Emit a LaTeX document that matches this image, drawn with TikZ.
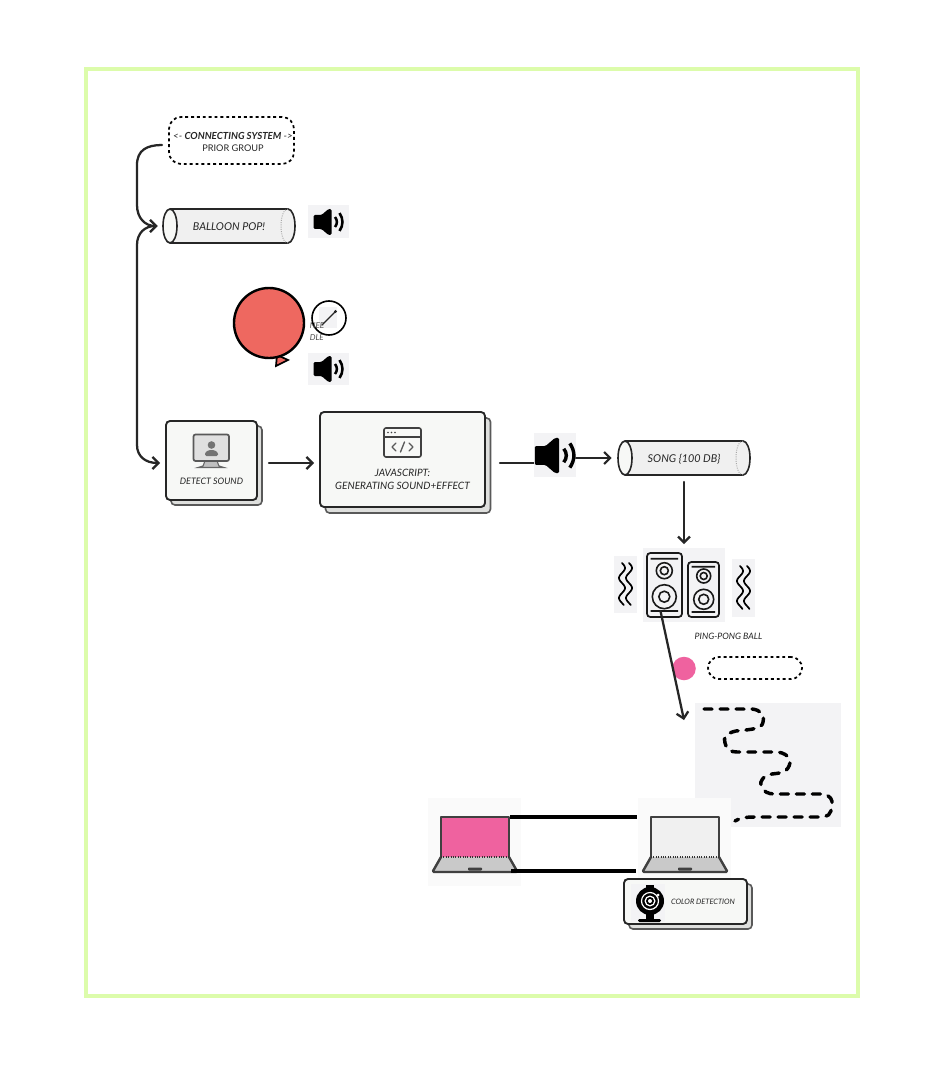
\documentclass[tikz,border=0pt]{standalone}
\usepackage{fontspec}
\setmainfont{Lato}
\usetikzlibrary{arrows.meta,calc}
\definecolor{frame}{HTML}{DCFCAB}
\definecolor{ink}{HTML}{262626}
\definecolor{iconbg}{HTML}{F3F3F5}
\definecolor{cardfill}{HTML}{F7F8F6}
\definecolor{cylfill}{HTML}{F0F0F0}
\definecolor{balloonred}{HTML}{EE6860}
\definecolor{pingpink}{HTML}{EF629F}
\definecolor{padgrey}{HTML}{C9C9C9}
\tikzset{
  conn/.style={draw=ink,line width=1.7pt,line cap=round,-{Straight Barb[length=4.5pt,width=9pt,line width=1.7pt]}},
  plainconn/.style={draw=ink,line width=1.7pt,line cap=round},
  thickline/.style={draw=black,line width=2.5pt},
  frontcard/.style={draw=ink,line width=1.4pt,fill=cardfill,rounded corners=3pt,inner sep=0pt},
  backcard/.style={draw=black!65,line width=1.2pt,fill=cardfill!90!black,rounded corners=3pt,inner sep=0pt},
  dashbox/.style={draw=black,line width=1.3pt,dash pattern=on 2.2pt off 2.2pt,inner sep=0pt},
  lab/.style={inner sep=0pt,text=ink,font=\itshape\fontsize{6.7pt}{9.6pt}\selectfont,align=center},
  iconback/.style={fill=iconbg,draw=none},
}
\newcommand\speakericon[3]{%
  \begin{scope}[shift={(#1,#2)},scale=#3]
    \fill[black,rounded corners=1pt] (-15,-7) -- (-7,-7) -- (0,-13) -- (3,-13) -- (3,13) -- (0,13) -- (-7,7) -- (-15,7) -- cycle;
    \draw[black,line width=#3*1.9pt] (6.5,-5) .. controls (9,-2) and (9,2) .. (6.5,5);
    \draw[black,line width=#3*1.9pt] (11,-9) .. controls (15,-3) and (15,3) .. (11,9);
  \end{scope}}
\newcommand\cylshape[6]{%
  \draw[ink,line width=1.2pt,fill=cylfill] ({#4-7},{(#3+#5)/2}) ellipse [x radius=7,y radius={(#5-#3)/2}];
  \fill[cylfill] ({#2+7},#3) rectangle ({#4-7},#5);
  \draw[ink,line width=1.2pt] ({#2+7},#3) -- ({#4-7},#3) ({#2+7},#5) -- ({#4-7},#5);
  \draw[black!35,line width=.7pt,densely dotted] ({#4-7},#3) .. controls ({#4-16.3},#3) and ({#4-16.3},#5) .. ({#4-7},#5);
  \draw[ink,line width=1.2pt,fill=cardfill] ({#2+7},{(#3+#5)/2}) ellipse [x radius=7,y radius={(#5-#3)/2}];
  \node[lab,font=\itshape\fontsize{8.1pt}{9pt}\selectfont,minimum width={(#4-#2)*.75pt},minimum height={(#5-#3)*.75pt}] (#1) at ({(#2+#4)/2},{(#3+#5)/2+.7}) {#6};}
\newcommand\laptop[3]{%
  \begin{scope}[shift={(#1,0)}]
    \fill[black!2] (-5,798) rectangle (88,886);
    \draw[black!75,line width=1.8pt,fill=#2,line join=round] (8,857) -- (8,817) -- (76,817) -- (76,857);
    \fill[padgrey] (8,857) -- (0,872) -- (84,872) -- (76,857) -- cycle;
    \draw[black!75,line width=1.8pt,line join=round,line cap=round] (8,857) -- (0,871) -- (1,872) -- (83,872) -- (84,871) -- (76,857);
    \draw[black!80,line width=.8pt,densely dotted] (8,857) -- (76,857);
    \fill[black!75,rounded corners=.6pt] (35,867.5) rectangle (49,870.5);
  \end{scope}}
\newcommand\wave[3]{%
  \draw[black,line width=1.3pt,line cap=round,smooth] plot[domain=#2:#3,samples=40] ({#1+3*sin((\x-#2)*18)},\x);}
\begin{document}
\begin{tikzpicture}[x=.75pt,y=-.75pt]
\useasboundingbox (0,0) rectangle (944,1066);
\fill[white] (0,0) rectangle (944,1066);
\draw[frame,line width=3pt] (85.5,69.5) rectangle (857.5,996);

% connecting system box
\node[dashbox,rounded corners=9pt,minimum width=125*.75pt,minimum height=47*.75pt] (prior) at (231.5,140.5) {};
\node[lab,font=\fontsize{7.3pt}{9pt}\selectfont] (priortext) at (233,142) {\itshape <- \textbf{CONNECTING SYSTEM} ->\\[0pt]{\fontsize{6.9pt}{9pt}\selectfont PRIOR GROUP}};

% balloon pop
\cylshape{balloon}{163}{209}{295}{243}{BALLOON POP!}
\fill[iconback] (308,205) rectangle (349,238);
\speakericon{328.5}{222}{1}

% balloon
\draw[black,line width=1.3pt,fill=balloonred] (277,355) -- (288,360) -- (276,366) -- cycle;
\node[circle,draw=black,line width=1.8pt,fill=balloonred,minimum size=70*.75pt,inner sep=0pt] (bigballoon) at (269,323) {};

% needle
\fill[iconback] (319,307) rectangle (337,328);
\node[circle,draw=black,line width=1.2pt,minimum size=34*.75pt,inner sep=0pt] (needlecircle) at (329,318) {};
\draw[ink,line width=1pt] (322,325) -- (335,312);
\fill[ink] (335.5,311.5) circle (1.6);
\node[lab,anchor=north west,align=left,font=\itshape\fontsize{6.1pt}{9pt}\selectfont,text=black!70] (needlelabel) at (309.5,322) {NEE\\DLE};

\fill[iconback] (308,353) rectangle (349,385);
\speakericon{328.5}{369}{1}

% cards
\node[backcard,minimum width=91*.75pt,minimum height=79*.75pt] (detectback) at (216.5,465.5) {};
\node[frontcard,minimum width=91*.75pt,minimum height=79*.75pt] (detect) at (211.5,460.5) {};
\fill[black!25,draw=black!60,line width=.8pt] (205,461) -- (217,461) -- (219,466) -- (224,467.5) -- (198,467.5) -- (203,466) -- cycle;
\draw[black!65,line width=1.3pt,fill=black!12,rounded corners=1.5pt] (193.5,434.5) rectangle (229,461);
\fill[black!55] (211.5,445) circle (3.8);
\fill[black!55,rounded corners=1pt] (205,456) -- (205,452.5) -- (209,450) -- (214,450) -- (218,452.5) -- (218,456) -- cycle;
\node[lab] (detecttext) at (211.5,481) {DETECT SOUND};

\node[backcard,minimum width=165*.75pt,minimum height=95*.75pt] (jsback) at (408,465.5) {};
\node[frontcard,minimum width=165*.75pt,minimum height=95*.75pt] (js) at (402.5,459.5) {};
\draw[black!75,line width=1.2pt,fill=cardfill,rounded corners=1.5pt] (384,428) rectangle (421,457);
\draw[black!75,line width=1.2pt] (384,437) -- (421,437);
\fill[black!75] (388,432.5) circle (.9) (391.5,432.5) circle (.9) (395,432.5) circle (.9);
\draw[black!65,line width=1pt,line cap=round,line join=round] (396,443) -- (392,447) -- (396,451) (409,443) -- (413,447) -- (409,451) (404.5,442) -- (400.5,452);
\node[lab,font=\itshape\fontsize{7.6pt}{9.8pt}\selectfont] (jstext) at (402.5,479) {JAVASCRIPT:\\GENERATING SOUND+EFFECT};

% big speaker
\coordinate (speakerin) at (534,463);
\draw[plainconn] ($(js.east)+(14,3.5)$) -- (speakerin);
\fill[iconback] (534,433) rectangle (576,477);
\speakericon{555}{455.5}{1.35}

% song
\cylshape{song}{618}{441}{750}{475}{SONG \{100 DB\}}

% loudspeakers
\fill[iconback] (643,548) rectangle (725,622);
\fill[iconback] (614,556) rectangle (637,613);
\fill[iconback] (732,559) rectangle (755,617);
\wave{622}{563}{605}
\wave{629}{563}{605}
\wave{740}{566}{609}
\wave{747}{566}{609}
\node[draw=black!90,line width=1.3pt,rounded corners=2.5pt,minimum width=35*.75pt,minimum height=64*.75pt,inner sep=0pt] (spkL) at (664.5,585) {};
\node[draw=black!90,line width=1.3pt,rounded corners=2.5pt,minimum width=31*.75pt,minimum height=55*.75pt,inner sep=0pt] (spkR) at (703.5,589.5) {};
\draw[black!90,line width=1.2pt] (664.3,570.7) circle (8) (664.3,570.7) circle (4) (664.3,596.7) circle (12) (664.3,596.7) circle (5.5)
  (650.7,558.7) -- (678,558.7) (650.7,611) -- (678,611)
  (703.7,576) circle (7) (703.7,576) circle (3.5) (703.7,599.3) circle (10) (703.7,599.3) circle (5)
  (691.7,566.7) -- (715,566.7) (691.7,612) -- (715,612);

% ping-pong
\node[lab,font=\itshape\fontsize{6.6pt}{9pt}\selectfont] (pingtext) at (728.5,636.5) {PING-PONG BALL};
\node[circle,fill=pingpink,minimum size=23.5*.75pt,inner sep=0pt] (ping) at (684,668.5) {};
\node[dashbox,rounded corners=8.2pt,minimum width=94*.75pt,minimum height=22*.75pt] (pingbox) at (755,668) {};

% path panel
\fill[iconback] (695,703) rectangle (841,827);
\coordinate (pathstart) at (704,709);
\coordinate (pathend) at (735,821);
\coordinate (arrowend) at (684,720);
\draw[black,line width=2.6pt,dash pattern=on 6pt off 6pt,line cap=round] (pathstart) -- (752,709)
 .. controls (760,710) and (765,714) .. (763,722) .. controls (762,729) and (752,729) .. (746,730) -- (736,731)
 .. controls (726,733) and (723,738) .. (725,743) .. controls (727,750) and (731,752) .. (737,752) -- (778,752)
 .. controls (790,754) and (792,762) .. (788,768) .. controls (785,773) and (780,773) .. (772,774)
 .. controls (762,776) and (760,782) .. (761,785) .. controls (763,792) and (768,794) .. (775,794) -- (823,794)
 .. controls (830,795) and (833,800) .. (832,805) .. controls (831,815) and (828,817) .. (820,817) -- (755,817) .. controls (745,817) and (740,818) .. (pathend);

% connectors
\coordinate (bracketstart) at (162,145);
\draw[conn] (bracketstart) .. controls (147,145) and (137,150) .. (137,165) -- (137,205) .. controls (137,218) and (145,226) .. ($(balloon.west)+(-5,-.7)$);
\draw[conn] (137,445) -- (137,245) .. controls (137,233) and (145,226) .. ($(balloon.west)+(-5,-.7)$);
\draw[conn] (137,445) .. controls (137,456) and (145,463) .. ($(detect.west)+(-5,2.5)$);
\draw[conn] ($(detect.east)+(11,2.5)$) -- ($(js.west)+(-5,3.5)$);
\draw[conn] (576,458) -- ($(song.west)+(-6,-.7)$);
\draw[conn] ($(song.south)+(0,6)$) -- ($(spkL.north)+(19.5,-8)$);
\draw[conn] (660.5,611) -- (arrowend);

% laptops
\laptop{433}{pingpink}{left}
\laptop{643}{cylfill}{right}
\coordinate (lapLtop) at (510,817);
\coordinate (lapRtop) at (637,817);
\coordinate (lapLbot) at (511,871);
\coordinate (lapRbot) at (636,871);
\draw[thickline] (lapLtop) -- (lapRtop);
\draw[thickline] (lapLbot) -- (lapRbot);

% colour detection
\node[backcard,minimum width=123*.75pt,minimum height=45*.75pt] (colorback) at (690.5,906.5) {};
\node[frontcard,minimum width=123*.75pt,minimum height=45*.75pt] (colorcard) at (685.5,901.5) {};
\fill[iconback] (631,884) rectangle (665,922);
\fill[black] (646,885) rectangle (654,892);
\fill[black] (650,901) circle (14);
\draw[white,line width=.9pt] (650,901) circle (8.5);
\fill[white] (650,901) circle (5.5);
\fill[black] (650,901) circle (4);
\fill[white] (650,901) circle (2);
\fill[white] (658,895) circle (1.5);
\fill[black] (646,914) rectangle (654,919);
\fill[black,rounded corners=1pt] (638,919) rectangle (661,922);
\node[lab,font=\itshape\fontsize{5.6pt}{7pt}\selectfont] (colortext) at (703,901.5) {COLOR DETECTION};
\end{tikzpicture}
\end{document}
